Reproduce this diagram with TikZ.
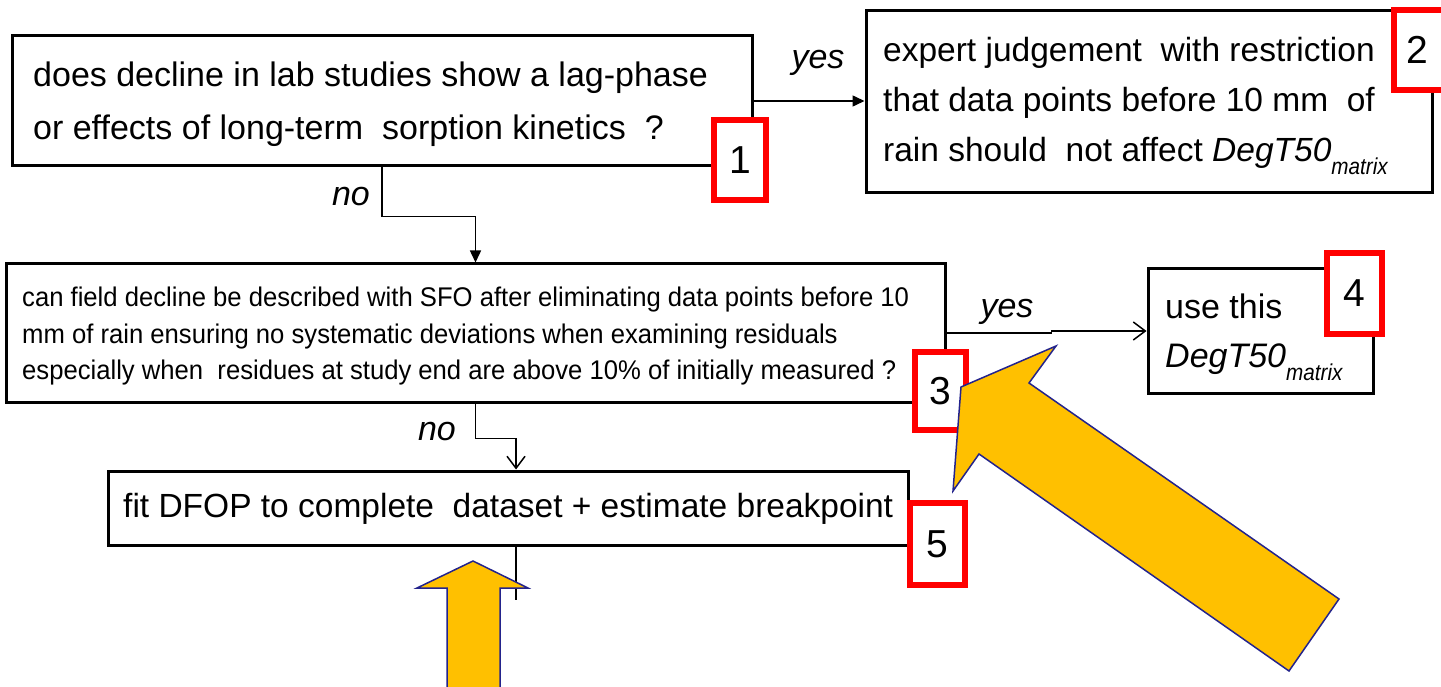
\documentclass[tikz,border=0pt]{standalone}
\usepackage{fontspec}
\setmainfont{Liberation Sans}
\usetikzlibrary{arrows.meta}
\definecolor{gold}{RGB}{255,192,0}
\definecolor{navy}{RGB}{35,35,140}
\tikzset{
  box/.style={draw=black, line width=3pt, inner sep=0pt},
  tag/.style={draw=red, line width=6pt, fill=white, inner sep=0pt,
              font=\fontsize{39}{39}\selectfont},
  txt/.style={anchor=base west, inner sep=0pt},
  big/.style={font=\fontsize{34}{34}\selectfont},
  mid/.style={font=\fontsize{33.5}{33.5}\selectfont},
  small/.style={font=\fontsize{27}{27}\selectfont},
  lbl/.style={inner sep=0pt, font=\itshape\fontsize{34}{34}\selectfont},
  conn/.style={draw=black, line width=1.5pt},
  filledtip/.style={-{Triangle[length=12pt,width=11pt]}},
  opentip/.style={-{Straight Barb[length=12pt,width=18pt,line width=1.5pt]}},
  bigarrow/.style={fill=gold, draw=navy, line width=1.5pt, line join=miter}
}
\newcommand{\degmatrix}{\textit{DegT50}\raisebox{-13pt}{\itshape\fontsize{23}{23}\selectfont\scalebox{0.9}[1]{matrix}}}
\newcommand{\sq}[1]{\scalebox{0.95}[1]{#1}}
\begin{document}
\begin{tikzpicture}[x=1pt, y=-1pt]
\clip (0,0) rectangle (1441,687);
\fill[white] (0,0) rectangle (1441,687);

% decision and result boxes
\node[box, minimum width=740pt, minimum height=130pt] (q1) at (382,101) {};
\node[box, minimum width=566pt, minimum height=182pt] (q2) at (1149,102) {};
\node[box, minimum width=939pt, minimum height=138pt] (q3) at (475.5,333) {};
\node[box, minimum width=225pt, minimum height=124pt] (q4) at (1260.5,331) {};
\node[box, minimum width=800pt, minimum height=74pt] (q5) at (508,508) {};

% box texts
\node[txt, big] (t1a) at (33,87) {does decline in lab studies show a lag-phase};
\node[txt, big] (t1b) at (33,140) {or effects of long-term\ \ sorption kinetics\ \ ?};

\node[txt, mid] (t2a) at (883,62) {expert judgement\ \ with restriction};
\node[txt, mid] (t2b) at (883,112) {that data points before 10 mm\ \ of};
\node[txt, mid] (t2c) at (883,162) {rain should\ \ not affect \degmatrix};

\node[txt, small] (t3a) at (22,306.5) {\sq{can field decline be described with SFO after eliminating data points before 10}};
\node[txt, small] (t3b) at (22,343) {\sq{mm of rain ensuring no systematic deviations when examining residuals}};
\node[txt, small] (t3c) at (22,379.5) {\sq{especially when\ \ residues at study end are above 10\% of initially measured ?}};

\node[txt, big] (t4a) at (1165,319) {use this};
\node[txt, big] (t4b) at (1165,367) {\degmatrix};

\node[txt, mid] (t5a) at (123,517) {fit DFOP to complete\ \ dataset + estimate breakpoint};

% connectors
\draw[conn, filledtip] (q1.east) -- (q1.east -| q2.west);
\draw[conn, filledtip] (q1.south) -- ++(0,49) -| (q3.north);
\draw[conn, opentip] (q3.east) -- ++(105,0) |- (q4.west);
\draw[conn, opentip] (q3.south) -- ++(0,35) -| ([xshift=8pt]q5.north);
\draw[conn] ([xshift=8pt]q5.south) -- ++(0,53);

% branch labels
\node[lbl] (yes1) at (818,63) {yes};
\node[lbl] (no1) at (351,197) {no};
\node[lbl] (yes2) at (1007,312) {yes};
\node[lbl] (no2) at (437,432) {no};

% numbered tags
\node[tag, minimum width=52pt, minimum height=80pt] (n1) at (740,160) {1};
\node[tag, minimum width=53pt, minimum height=80pt] (n2) at (1420.5,50) {};
\node[anchor=center, inner sep=0pt, font=\fontsize{39}{39}\selectfont] (n2t) at (1417,50) {2};
\node[tag, minimum width=51pt, minimum height=78pt] (n3) at (940.5,391) {3};
\node[tag, minimum width=55pt, minimum height=81pt] (n4) at (1354.5,293.5) {4};
\node[tag, minimum width=55pt, minimum height=82pt] (n5) at (937.5,544) {5};

% highlight arrows
\draw[bigarrow] (961,387) -- (1056,346) -- (1029,383) -- (1339,599)
  -- (1289,671) -- (979,454) -- (953,491) -- cycle;
\draw[bigarrow] (473,561) -- (528,588) -- (500,588) -- (500,700)
  -- (447,700) -- (447,588) -- (417,588) -- cycle;
\end{tikzpicture}
\end{document}
